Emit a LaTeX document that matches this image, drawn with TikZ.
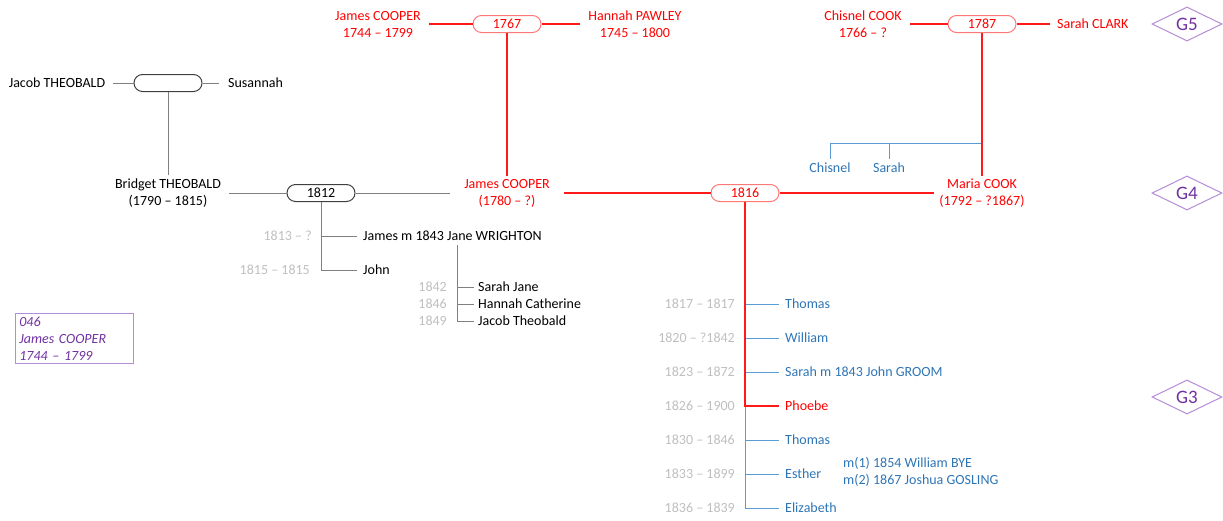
\documentclass[tikz,border=0pt]{standalone}
\usepackage{fontspec}
\setmainfont{Carlito}
\usepackage{xcolor}
\usepackage{tikz}
\usetikzlibrary{shapes.geometric, positioning}
\definecolor{famred}{RGB}{255,0,0}
\definecolor{pillred}{RGB}{255,120,120}
\definecolor{famblue}{RGB}{46,117,182}
\definecolor{branchblue}{RGB}{91,155,213}
\definecolor{lineg}{RGB}{128,128,128}
\definecolor{dateg}{RGB}{191,191,191}
\definecolor{genpurple}{RGB}{112,48,160}
\definecolor{genborder}{RGB}{180,140,215}
\tikzstyle{person} = [align=center, inner xsep=8pt, inner ysep=3pt, font=\fontsize{14}{17}\selectfont]
\tikzstyle{child} = [anchor=west, inner xsep=6pt, inner ysep=2pt, font=\fontsize{14}{17}\selectfont]
\tikzstyle{date} = [anchor=east, text=dateg, inner sep=2pt, font=\fontsize{14}{17}\selectfont]
\tikzstyle{pill} = [rectangle, rounded corners=8.5pt, minimum width=68pt, minimum height=17pt, inner sep=0pt, fill=white, font=\fontsize{14}{17}\selectfont]
\tikzstyle{redpill} = [pill, draw=pillred, line width=1pt, text=famred]
\tikzstyle{greypill} = [pill, draw=black!75, line width=1pt]
\tikzstyle{gen} = [diamond, draw=genborder, line width=1pt, text=genpurple, minimum width=70pt, minimum height=34pt, inner sep=0pt, font=\fontsize{19}{20}\selectfont]
\tikzstyle{redline} = [famred!90, line width=1.1pt]
\tikzstyle{greyline} = [lineg, line width=1pt]
\tikzstyle{blueline} = [branchblue, line width=1pt]

\begin{document}
\begin{tikzpicture}[x=1pt, y=-1pt]
  \useasboundingbox (0,0) rectangle (1223,520);

  % Generations
  \node (g5) [gen] at (1187,24) {G5};
  \node (g4) [gen] at (1187,193) {G4};
  \node (g3) [gen] at (1187,397) {G3};

  % Top couples
  \node (jcoop) [person, text=famred] at (378,24) {James COOPER\\1744 – 1799};
  \node (m1767) [redpill] at (507,24) {1767};
  \node (hpaw) [person, text=famred] at (635,24) {Hannah PAWLEY\\1745 – 1800};
  \node (ccook) [person, text=famred] at (863,24) {Chisnel COOK\\1766 – ?};
  \node (m1787) [redpill] at (982,24) {1787};
  \node (sclark) [person, text=famred, anchor=west, inner xsep=7pt] at (1050,24) {Sarah CLARK};
  \node (jtheo) [person] at (57,83) {Jacob THEOBALD};
  \node (mtheo) [greypill] at (168,83) {};
  \node (susan) [person, anchor=west, inner xsep=9pt] at (219,83) {Susannah};

  % Middle couples
  \node (btheo) [person] at (168,193) {Bridget THEOBALD\\(1790 – 1815)};
  \node (m1812) [greypill] at (321,193) {1812};
  \node (jcoop2) [person, text=famred, inner xsep=14pt] at (507,193) {James COOPER\\(1780 – ?)};
  \node (m1816) [redpill] at (745,193) {1816};
  \node (mcook) [person, text=famred, inner xsep=5pt] at (982,193) {Maria COOK\\(1792 – ?1867)};
  \node (chisnel) [person, text=famblue, inner ysep=4pt] at (830,168) {Chisnel};
  \node (sarahc) [person, text=famblue, inner ysep=4pt] at (889,168) {Sarah};
  \coordinate (cookbr) at (982,143);

  % Children of 1812
  \node (jamesw) [child] at (357,236) {James m 1843 Jane WRIGHTON};
  \node (john) [child] at (357,270) {John};
  \node (d1813) [date] at (314,236) {1813 – ?};
  \node (d1815) [date] at (312,270) {1815 – 1815};
  \coordinate (wright) at (457,245);
  \node (sjane) [child, inner xsep=4pt] at (474,287) {Sarah Jane};
  \node (hcath) [child, inner xsep=4pt] at (474,304) {Hannah Catherine};
  \node (jtheo2) [child, inner xsep=4pt] at (474,321) {Jacob Theobald};
  \node (d1842) [date] at (449,287) {1842};
  \node (d1846) [date] at (449,304) {1846};
  \node (d1849) [date] at (449,321) {1849};

  % Children of 1816
  \node (thomas1) [child, text=famblue] at (779,304) {Thomas};
  \node (william) [child, text=famblue] at (779,338) {William};
  \node (sarahg) [child, text=famblue] at (779,372) {Sarah m 1843 John GROOM};
  \node (phoebe) [child, text=famred] at (779,406) {Phoebe};
  \node (thomas2) [child, text=famblue] at (779,440) {Thomas};
  \node (esther) [child, text=famblue] at (779,474) {Esther};
  \node (eliz) [child, text=famblue] at (779,508) {Elizabeth};
  \node (emarr) [child, text=famblue, align=left] at (837,472) {m(1) 1854 William BYE\\m(2) 1867 Joshua GOSLING};
  \node (d1817) [date] at (737,304) {1817 – 1817};
  \node (d1820) [date] at (737,338) {1820 – ?1842};
  \node (d1823) [date] at (737,372) {1823 – 1872};
  \node (d1826) [date] at (737,406) {1826 – 1900};
  \node (d1830) [date] at (737,440) {1830 – 1846};
  \node (d1833) [date] at (737,474) {1833 – 1899};
  \node (d1836) [date] at (737,508) {1836 – 1839};

  % Key
  \node (key) [anchor=north west, draw=genborder, line width=0.8pt, text=genpurple, align=left, text width=110pt, minimum height=50pt, inner xsep=4pt, inner ysep=1pt, font=\fontsize{14}{17}\selectfont\itshape] at (15,313) {046\\James COOPER\\1744 – 1799};

  % Lines
  \draw[greyline] (jtheo) -- (mtheo) -- (susan);
  \draw[greyline] (mtheo) -- (btheo);
  \draw[greyline] (btheo) -- (m1812) -- (jcoop2);
  \draw[greyline] (m1812) |- (jamesw);
  \draw[greyline] (m1812) |- (john);
  \draw[greyline] (wright) |- (sjane);
  \draw[greyline] (wright) |- (hcath);
  \draw[greyline] (wright) |- (jtheo2);
  \draw[blueline] (cookbr) -| (chisnel);
  \draw[blueline] (cookbr) -| (sarahc);
  \draw[blueline] (m1816) |- (thomas1);
  \draw[blueline] (m1816) |- (william);
  \draw[blueline] (m1816) |- (sarahg);
  \draw[blueline] (m1816) |- (thomas2);
  \draw[blueline] (m1816) |- (esther);
  \draw[blueline] (m1816) |- (eliz);
  \draw[redline] (m1816) |- (phoebe);
  \draw[redline] (jcoop) -- (m1767) -- (hpaw);
  \draw[redline] (ccook) -- (m1787) -- (sclark);
  \draw[redline] (m1767) -- (jcoop2);
  \draw[redline] (m1787) -- (mcook);
  \draw[redline] (jcoop2) -- (m1816) -- (mcook);

\end{tikzpicture}
\end{document}
